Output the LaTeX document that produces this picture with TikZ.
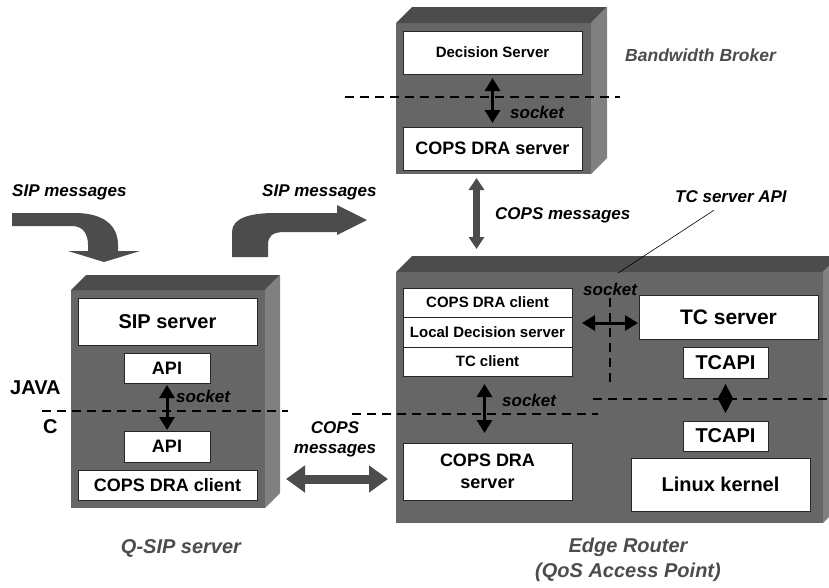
\documentclass[tikz,border=0pt]{standalone}
\usepackage{fontspec}
\setmainfont{Liberation Sans}
\usepackage{tikz}
\usetikzlibrary{arrows.meta}

\begin{document}
\begin{tikzpicture}[x=1pt,y=-1pt,
  front/.style={fill=black!60, draw=none, inner sep=0pt, outer sep=0pt},
  blk/.style 2 args={draw=black!85, fill=white, line width=0.8pt, inner sep=0pt, outer sep=0pt, align=center, font=\bfseries\fontsize{#1}{#2}\selectfont},
  sock/.style={{Triangle[length=13pt,width=15pt]}-{Triangle[length=13pt,width=15pt]}, line width=3pt},
  diam/.style={{Triangle[length=14.5pt,width=15pt]}-{Triangle[length=14.5pt,width=15pt]}, line width=1pt},
  fatv/.style={{Triangle[length=12pt,width=15pt]}-{Triangle[length=12pt,width=15pt]}, line width=7pt, draw=black!70},
  fath/.style={{Triangle[length=19pt,width=26pt]}-{Triangle[length=19pt,width=26pt]}, line width=9pt, draw=black!70},
  cut/.style={line width=2pt, dash pattern=on 9pt off 6pt},
  lbl/.style={inner sep=0pt, font=\bfseries\itshape\fontsize{17}{20}\selectfont},
  boxcap/.style={inner sep=0pt, text=black!70, align=center, font=\bfseries\itshape\fontsize{20}{25}\selectfont}]

\clip (0,0) rectangle (829,587);

\node[front, minimum width=195pt, minimum height=151pt] (bbfront) at (493.5,98.5) {};
\node[front, minimum width=194pt, minimum height=218pt] (qfront) at (168,399) {};
\node[front, minimum width=427pt, minimum height=251pt] (efront) at (609.5,397.5) {};

\foreach \f/\d in {bbfront/16, qfront/15, efront/16}{
  \fill[black!70] (\f.north west) -- ++(\d,-\d) -- ([xshift=\d pt,yshift=\d pt]\f.north east) -- (\f.north east) -- cycle;
  \fill[black!50] (\f.north east) -- ++(\d,-\d) -- ([xshift=\d pt,yshift=\d pt]\f.south east) -- (\f.south east) -- cycle;
}

\node[blk={15}{18}, minimum width=179pt, minimum height=43pt] (dec) at (492.5,52.5) {Decision Server};
\node[blk={18}{21}, minimum width=179pt, minimum height=43pt] (bbcops) at (492.5,148.5) {COPS DRA server};

\node[blk={20}{24}, minimum width=179pt, minimum height=47pt] (sipsrv) at (167.5,321.5) {SIP server};
\node[blk={18}{21}, minimum width=86pt, minimum height=30pt] (apiup) at (167,368) {API};
\node[blk={18}{21}, minimum width=86pt, minimum height=31pt] (apidn) at (167,446.5) {API};
\node[blk={18}{21}, minimum width=179pt, minimum height=30pt] (qcops) at (167.5,485) {COPS DRA client};

\node[blk={15}{18}, minimum width=169pt, minimum height=29pt] (ecops) at (487.5,302.5) {COPS DRA client};
\node[blk={15}{18}, minimum width=169pt, minimum height=30pt] (eloc) at (487.5,332) {Local Decision server};
\node[blk={15}{18}, minimum width=169pt, minimum height=29pt] (etc) at (487.5,361.5) {TC client};
\node[blk={18}{22}, minimum width=169pt, minimum height=57pt] (ecopsd) at (487.5,471.5) {COPS DRA\\server};
\node[blk={21}{25}, minimum width=179pt, minimum height=44pt] (tcsrv) at (728.5,317) {TC server};
\node[blk={20}{24}, minimum width=85pt, minimum height=31pt] (tcapi1) at (725.5,362.5) {TCAPI};
\node[blk={20}{24}, minimum width=85pt, minimum height=30pt] (tcapi2) at (725.5,436) {TCAPI};
\node[blk={20}{24}, minimum width=179pt, minimum height=53pt] (linux) at (720.5,484.5) {Linux kernel};

\draw[cut] (345,97) -- (620,97);
\draw[cut] (42,411) -- (288,411);
\draw[cut] (352,414) -- (598,414);
\draw[cut] (593,399) -- (829,399);
\draw[cut] (610,298) -- (610,388);

\draw[sock, shorten <=4pt, shorten >=4pt] (dec) -- (bbcops);
\draw[sock, shorten <=2pt, shorten >=1pt] (apiup) -- (apidn);
\draw[sock, shorten <=8pt, shorten >=10pt] ([xshift=-3pt]etc.south) -- ([xshift=-3pt]ecopsd.north);
\draw[sock, shorten <=10pt, shorten >=1pt] ([yshift=-6pt]tcsrv.west -| eloc.east) -- ([yshift=-6pt]tcsrv.west);
\draw[diam, shorten <=6pt, shorten >=8pt] (tcapi1) -- (tcapi2);

\draw[fatv, shorten <=8pt, shorten >=23pt] ([xshift=-16pt]bbcops.south) -- ([xshift=-16pt]bbcops.south |- efront.north);
\draw[fath, shorten <=21pt, shorten >=8pt] ([yshift=-7.5pt]ecopsd.center -| qfront.east) -- ([yshift=-7.5pt]ecopsd.center -| efront.west);

\fill[black!70] (12,213) -- (75,213) .. controls (103,213) and (118,225) .. (118,245) -- (118,251) -- (140,251) -- (104,262) -- (68,251) -- (88,251) -- (88,245) .. controls (88,234) and (83,226) .. (72,226) -- (12,226) -- cycle;
\fill[black!70] (232,257) -- (232,232) .. controls (232,218) and (250,213) .. (275,213) -- (337,213) -- (337,205) -- (367,220) -- (337,235) -- (337,232) -- (285,232) .. controls (272,232) and (268,236) .. (268,245) -- (268,257) -- cycle;

\node[lbl, anchor=west] (sipin) at (12,192) {SIP messages};
\node[lbl, anchor=west] (sipout) at (262,192) {SIP messages};
\node[lbl, anchor=west] (copsv) at (495,215) {COPS messages};
\node[lbl, align=center] (copsh) at (335,439) {COPS\\messages};
\node[lbl, anchor=west] (tclbl) at (675,197) {TC server API};
\node[lbl, anchor=west] (sockbb) at (510,112) {socket};
\node[lbl, anchor=west] (socktc) at (583,289) {socket};
\node[lbl, anchor=west] (sockedge) at (502,400) {socket};
\node[lbl, anchor=west] (sockq) at (176,396) {socket};
\node[inner sep=0pt, anchor=west, font=\bfseries\fontsize{20}{24}\selectfont] (java) at (10,388) {JAVA};
\node[inner sep=0pt, anchor=west, font=\bfseries\fontsize{20}{24}\selectfont] (clang) at (43,427) {C};

\coordinate (apipt) at (618,273);
\draw[line width=0.6pt] (apipt) -- ([xshift=-17pt,yshift=-7pt]tclbl.south);

\node[boxcap, anchor=west, font=\bfseries\itshape\fontsize{17.5}{21}\selectfont] (bbcap) at (625,55) {Bandwidth Broker};
\node[boxcap] (qcap) at (181,548) {Q-SIP server};
\node[boxcap] (ecap) at (628,560) {Edge Router\\(QoS Access Point)};
\end{tikzpicture}
\end{document}
